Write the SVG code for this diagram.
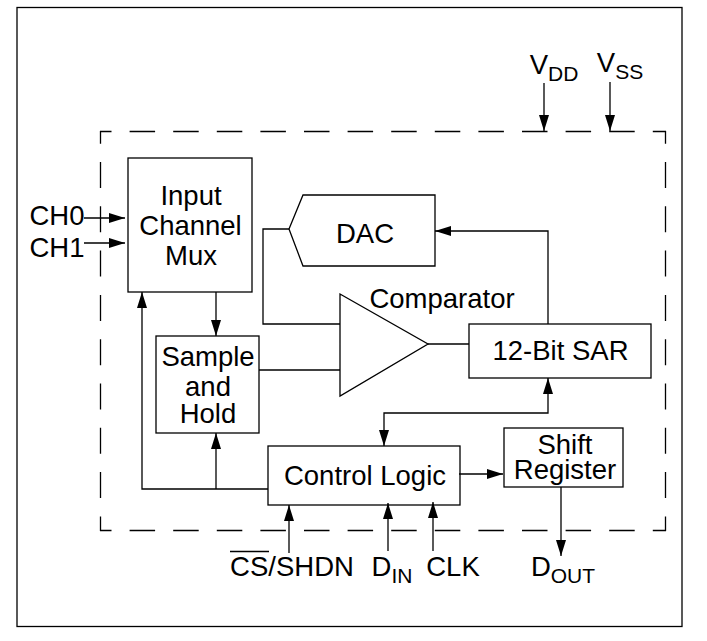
<svg xmlns="http://www.w3.org/2000/svg" width="707" height="641" viewBox="0 0 707 641">
<style>
text{font-family:"Liberation Sans",Arial,sans-serif;font-size:27.5px;fill:#000;text-anchor:middle}
.s{font-size:21px}
.b{fill:none;stroke:#000;stroke-width:1.3}
.c{fill:none;stroke:#000;stroke-width:1.3}
.h{fill:none;stroke:#000;stroke-width:1.3;stroke-dasharray:25.5 18.1;stroke-dashoffset:14}
.v{fill:none;stroke:#000;stroke-width:1.3;stroke-dasharray:26 18.3;stroke-dashoffset:13.3}
</style>
<defs>
<marker id="a" markerUnits="userSpaceOnUse" markerWidth="16" markerHeight="10" refX="16" refY="5" orient="auto-start-reverse"><path d="M0 0L16 5L0 10Z" fill="#000"/></marker>
</defs>
<rect width="707" height="641" fill="#fff"/>
<g id="frame"><rect class="b" x="17" y="7.5" width="665" height="619"/></g>
<g id="boundary">
<path class="h" d="M100 131.5H666"/>
<path class="h" d="M100 530.5H666"/>
<path class="v" d="M100.5 131V531"/>
<path class="v" d="M665.5 131V531"/>
</g>
<g id="connectors">
<path class="c" marker-end="url(#a)" d="M544 83V131"/>
<path class="c" marker-end="url(#a)" d="M610 82V131"/>
<path class="c" marker-end="url(#a)" d="M84 218H125"/>
<path class="c" marker-end="url(#a)" d="M84 243H125"/>
<path class="c" marker-end="url(#a)" d="M216 292V336"/>
<path class="c" d="M289 229H263V324H340"/>
<path class="c" d="M259 370H340"/>
<path class="c" d="M428 344H469"/>
<path class="c" marker-end="url(#a)" d="M548 324V231H435"/>
<path class="c" marker-start="url(#a)" marker-end="url(#a)" d="M384 446V413H548V378"/>
<path class="c" marker-end="url(#a)" d="M268 489H142V292"/>
<path class="c" marker-end="url(#a)" d="M216 489V433"/>
<path class="c" marker-end="url(#a)" d="M459 474H503"/>
<path class="c" marker-end="url(#a)" d="M561 487V556"/>
<path class="c" marker-end="url(#a)" d="M289 553V505"/>
<path class="c" marker-end="url(#a)" d="M388 551V503"/>
<path class="c" marker-end="url(#a)" d="M433 551V502"/>
</g>
<g id="mux"><rect class="b" x="128" y="158" width="124" height="134"/><text x="191" y="205">Input</text><text x="190.500" y="235">Channel</text><text x="191" y="265">Mux</text></g>
<g id="dac"><path class="b" d="M303 195H435V266H303L289 229Z"/><text x="365" y="243">DAC</text></g>
<g id="comparator"><path class="b" d="M340 294L428 344L340 396Z"/><text x="442" y="308">Comparator</text></g>
<g id="sar"><rect class="b" x="469" y="324" width="182" height="54"/><text x="560.500" y="360">12-Bit SAR</text></g>
<g id="sample"><rect class="b" x="156" y="336" width="103" height="97"/><text x="208" y="366">Sample</text><text x="208" y="396">and</text><text x="208" y="423">Hold</text></g>
<g id="control"><rect class="b" x="268" y="446" width="192" height="59"/><text x="365" y="485">Control Logic</text></g>
<g id="shift"><rect class="b" x="504" y="428" width="119" height="59"/><text x="565" y="454">Shift</text><text x="565" y="479">Register</text></g>
<g id="labels">
<text x="554" y="74">V<tspan class="s" dy="7">DD</tspan></text>
<text x="620" y="72">V<tspan class="s" dy="7">SS</tspan></text>
<text x="57" y="225">CH0</text>
<text x="57" y="257">CH1</text>
<text x="292" y="576">CS/SHDN</text>
<path class="c" stroke-width="2" d="M230 551.500H269"/>
<text x="392" y="576">D<tspan class="s" dy="7">IN</tspan></text>
<text x="453" y="576">CLK</text>
<text x="563" y="576">D<tspan class="s" dy="7">OUT</tspan></text>
</g>
</svg>
